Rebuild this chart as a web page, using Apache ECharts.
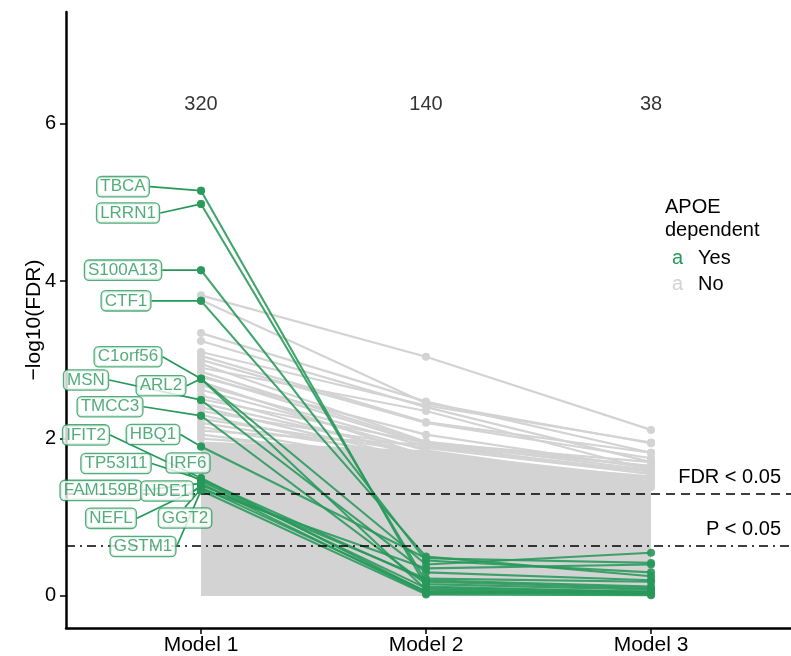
<!DOCTYPE html>
<html><head><meta charset="utf-8">
<script src="https://cdn.jsdelivr.net/npm/echarts@6/dist/echarts.min.js"></script>
<style>html,body{margin:0;padding:0;background:#fff}#c{width:791px;height:656px}</style>
</head><body><div id="c"></div>
<script>
const categories = ['Model 1', 'Model 2', 'Model 3'];
const counts = [320, 140, 38];
const yTicks = [0, 2, 4, 6];
const fdrLine = 1.301;
const pLine = 0.64;
const countLabelY = 6.25;

// APOE-dependent genes (green)
const greenGenes = ['TBCA','LRRN1','S100A13','CTF1','C1orf56','ARL2','MSN','TMCC3','HBQ1','IFIT2','TP53I11','IRF6','FAM159B','NDE1','NEFL','GGT2','GSTM1'];
const greenM1 = [5.15, 4.98, 4.14, 3.75, 2.76, 2.76, 2.49, 2.29, 1.90, 1.50, 1.48, 1.46, 1.43, 1.41, 1.38, 1.36, 1.34];
const greenM2 = [0.12, 0.18, 0.45, 0.50, 0.40, 0.08, 0.30, 0.15, 0.48, 0.05, 0.20, 0.10, 0.03, 0.22, 0.06, 0.35, 0.02];
const greenM3 = [0.05, 0.10, 0.30, 0.25, 0.55, 0.03, 0.20, 0.08, 0.42, 0.02, 0.12, 0.05, 0.06, 0.18, 0.04, 0.40, 0.01];

// Non-APOE-dependent genes visible above the dense band (grey)
const grayM1 = [3.82, 3.76, 3.34, 3.24, 3.10, 3.05, 3.00, 2.95, 2.90, 2.85, 2.80, 2.78, 2.72, 2.68, 2.62, 2.55, 2.50, 2.45, 2.40, 2.35, 2.30, 2.25, 2.20, 2.15, 2.10, 2.05, 2.00];
const grayM2 = [3.04, 2.45, 2.47, 2.40, 2.42, 2.21, 2.20, 1.96, 2.35, 1.95, 1.93, 2.05, 1.78, 1.90, 1.85, 1.75, 1.95, 1.80, 1.72, 1.88, 1.70, 1.82, 1.76, 1.65, 1.92, 1.70, 1.80];
const grayM3 = [2.11, 1.94, 1.82, 1.70, 1.95, 1.82, 1.75, 1.65, 1.60, 1.70, 1.55, 1.62, 1.50, 1.58, 1.45, 1.52, 1.60, 1.48, 1.42, 1.55, 1.40, 1.50, 1.45, 1.38, 1.65, 1.42, 1.45];

// Dense band formed by the remaining grey genes (upper envelope per model)
const bandUpper = [1.95, 1.84, 1.45];

// label offsets (px) from each Model 1 point to its label centre
const labelOffsets = [[-78,-4],[-73,9],[-78,0],[-75,0],[-73,-22],[-40,7],[-115,-20],[-91,-9],[-48,-12],[-115,-43],[-85,-16],[-13,-18],[-100,7],[-34,6],[-90,31],[-16,29],[-58,56]];

const GREEN = '#27985a';
const GRAY = '#d3d3d3';
const FONT = "'Liberation Sans', Arial, Helvetica, sans-serif";

const series = [];
series.push({
  type: 'line', silent: true, z: 1,
  data: bandUpper.map((v, i) => [i, v]),
  symbol: 'none',
  lineStyle: { color: GRAY, width: 2 },
  areaStyle: { color: GRAY, opacity: 1, origin: 0 },
  markLine: {
    silent: true, symbol: 'none',
    data: [
      { yAxis: fdrLine, lineStyle: { type: [9, 6], color: '#000', width: 1.6 },
        label: { formatter: 'FDR < 0.05', position: 'insideEndTop', color: '#000', fontSize: 20, fontFamily: FONT, distance: [10, 6] } },
      { yAxis: pLine, lineStyle: { type: [9, 5, 2, 5], color: '#000', width: 1.6 },
        label: { formatter: 'P < 0.05', position: 'insideEndTop', color: '#000', fontSize: 20, fontFamily: FONT, distance: [10, 6] } }
    ]
  }
});
for (let i = 0; i < grayM1.length; i++) {
  series.push({
    type: 'line', silent: true, z: 2,
    data: [[0, grayM1[i]], [1, grayM2[i]], [2, grayM3[i]]],
    symbol: 'circle', symbolSize: 8,
    itemStyle: { color: GRAY },
    lineStyle: { color: GRAY, width: 2.2 }
  });
}
for (let i = 0; i < greenGenes.length; i++) {
  series.push({
    type: 'line', silent: true, z: 4,
    data: [[0, greenM1[i]], [1, greenM2[i]], [2, greenM3[i]]],
    symbol: 'circle', symbolSize: 8,
    itemStyle: { color: GREEN, opacity: 0.9 },
    lineStyle: { color: GREEN, width: 2.1, opacity: 0.88 }
  });
}
// labels for green genes
series.push({
  type: 'scatter', silent: true, z: 6,
  data: greenGenes.map((g, i) => ({ value: [0, greenM1[i]], name: g })),
  symbol: 'circle', symbolSize: 8,
  itemStyle: { color: GREEN },
  label: {
    show: true, position: 'inside', formatter: p => p.name,
    color: GREEN, fontSize: 17, fontFamily: FONT,
    backgroundColor: '#fff', borderColor: GREEN, borderWidth: 1.3, borderRadius: 4,
    padding: [2, 3, 0, 3]
  },
  labelLine: { show: true, lineStyle: { color: GREEN, width: 1.7 } },
  labelLayout: p => ({ dx: labelOffsets[p.dataIndex][0], dy: labelOffsets[p.dataIndex][1] })
});
// count labels
series.push({
  type: 'scatter', silent: true, z: 6,
  data: counts.map((c, i) => [i, countLabelY]),
  symbolSize: 0,
  label: { show: true, position: 'inside', formatter: p => String(counts[p.dataIndex]), color: '#000', textBorderWidth: 0, fontSize: 20, fontFamily: FONT }
});

const chart = echarts.init(document.getElementById('c'), null, { renderer: 'canvas' });
chart.setOption({
  animation: false,
  backgroundColor: '#fff',
  grid: { left: 66, right: 0, top: 12, bottom: 28, containLabel: false },
  xAxis: {
    type: 'value', min: -0.6, max: 2.622,
    splitLine: { show: false },
    axisLine: { onZero: false, lineStyle: { color: '#000', width: 2.5 } },
    axisTick: { show: true, customValues: [0, 1, 2], length: 6, lineStyle: { color: '#000', width: 1.5 } },
    axisLabel: { customValues: [0, 1, 2], formatter: v => categories[Math.round(v)], color: '#000', fontSize: 21, fontFamily: FONT, margin: 7 }
  },
  yAxis: {
    type: 'value', min: -0.407, max: 7.42,
    name: '\u2212log10(FDR)', nameLocation: 'middle', nameGap: 21, nameMoveOverlap: false,
    nameTextStyle: { color: '#000', fontSize: 21, fontFamily: FONT },
    splitLine: { show: false },
    axisLine: { onZero: false, lineStyle: { color: '#000', width: 2.5 } },
    axisTick: { show: true, customValues: yTicks, length: 6, lineStyle: { color: '#000', width: 1.5 } },
    axisLabel: { customValues: yTicks, color: '#000', fontSize: 20, fontFamily: FONT, margin: 10 }
  },
  series: series,
  graphic: [
    { type: 'text', left: 665, top: 196, style: { text: 'APOE\ndependent', fill: '#000', fontSize: 20, fontFamily: FONT, lineHeight: 23 } },
    { type: 'text', left: 672, top: 248, style: { text: 'a', fill: GREEN, fontSize: 20, fontFamily: FONT } },
    { type: 'text', left: 698, top: 248, style: { text: 'Yes', fill: '#000', fontSize: 20, fontFamily: FONT } },
    { type: 'text', left: 672, top: 274, style: { text: 'a', fill: GRAY, fontSize: 20, fontFamily: FONT } },
    { type: 'text', left: 698, top: 274, style: { text: 'No', fill: '#000', fontSize: 20, fontFamily: FONT } }
  ]
});
</script>
</body></html>
